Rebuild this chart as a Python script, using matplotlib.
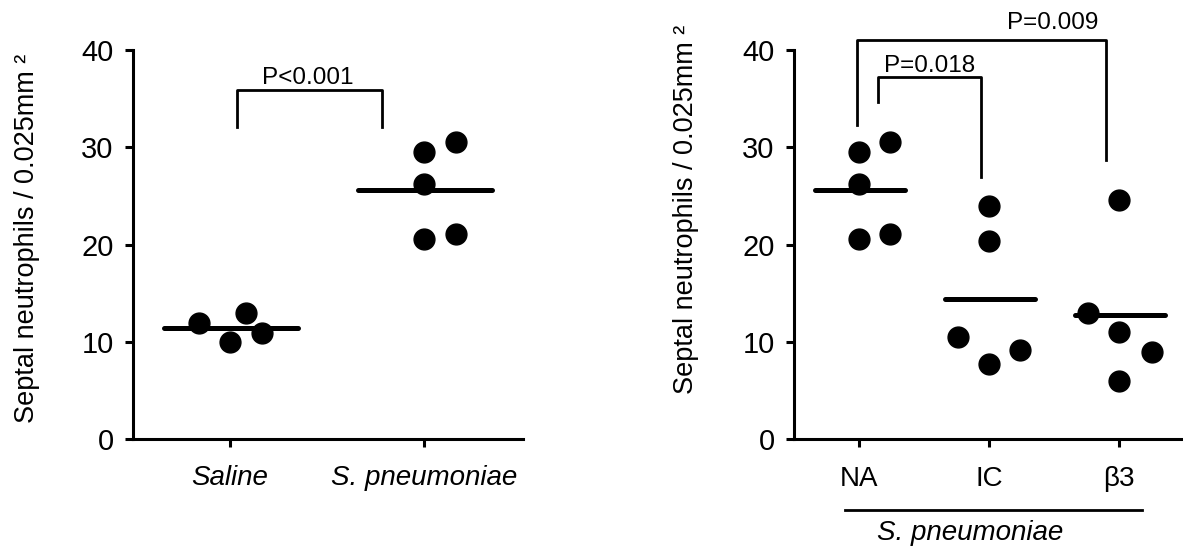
import matplotlib
matplotlib.use('Agg')
import matplotlib.pyplot as plt
import numpy as np

plt.rcParams['font.family'] = ['Liberation Sans', 'DejaVu Sans']

#-- left panel data
left_groups = ['Saline', 'S. pneumoniae']
saline     = [11.9, 13.0, 10.0, 10.9]
saline_dx  = [-0.16, 0.08, 0.0, 0.165]
spn        = [29.5, 30.5, 26.2, 20.6, 21.1]
spn_dx     = [0.0, 0.165, 0.0, 0.0, 0.165]

#-- right panel data (all S. pneumoniae)
right_groups = ['NA', 'IC', 'β3']
na     = [29.5, 30.5, 26.2, 20.6, 21.1]
na_dx  = [0.0, 0.24, 0.0, 0.0, 0.24]
ic     = [24.0, 20.4, 10.5, 7.7, 9.2]
ic_dx  = [0.0, 0.0, -0.24, 0.0, 0.24]
b3     = [24.6, 13.0, 11.0, 8.9, 6.0]
b3_dx  = [0.0, -0.24, 0.0, 0.25, 0.0]

ylabel = 'Septal neutrophils / 0.025mm \u00b2'
yticks = [0, 10, 20, 30, 40]

fig = plt.figure(figsize=(11.83, 5.56), dpi=100)
axL = fig.add_axes([0.1124, 0.2104, 0.3297, 0.6997])
axR = fig.add_axes([0.6712, 0.2104, 0.3280, 0.6997])

def style(ax, xlim, pad):
    ax.set_xlim(*xlim)
    ax.set_ylim(0, 40)
    ax.set_yticks(yticks)
    for s in ['top', 'right']:
        ax.spines[s].set_visible(False)
    for s in ['left', 'bottom']:
        ax.spines[s].set_linewidth(2.2)
    ax.tick_params(axis='both', width=2.2, length=6)
    ax.tick_params(axis='y', pad=8, labelsize=21)
    ax.tick_params(axis='x', pad=pad, labelsize=20)

def dots(ax, i, vals, dx):
    ax.plot(np.array(dx) + i, vals, 'o', color='black', ms=15, clip_on=False, zorder=3)
    m = np.mean(vals)
    ax.plot([i - 0.34, i + 0.35], [m, m], color='black', lw=3.6,
            solid_capstyle='round', zorder=4)

def bracket(ax, x1, x2, y1, y2, ytop, txt, tx, ty):
    ax.plot([x1, x1, x2, x2], [y1, ytop, ytop, y2], color='black', lw=2.0, clip_on=False)
    ax.text(tx, ty, txt, ha='center', va='baseline', fontsize=17.5)

#-- left panel
style(axL, (-0.5, 1.51), 12.5)
dots(axL, 0, saline, saline_dx)
dots(axL, 1, spn, spn_dx)
axL.set_xticks(range(len(left_groups)))
axL.set_xticklabels(left_groups, style='italic')
bracket(axL, 0.036, 0.784, 32.1, 32.1, 35.9, 'P<0.001', 0.40, 36.5)

#-- right panel
style(axR, (-0.5, 2.485), 13.5)
dots(axR, 0, na, na_dx)
dots(axR, 1, ic, ic_dx)
dots(axR, 2, b3, b3_dx)
axR.set_xticks(range(len(right_groups)))
axR.set_xticklabels(right_groups)
bracket(axR, 0.146, 0.94, 34.65, 26.9, 37.2, 'P=0.018', 0.54, 37.7)
bracket(axR, -0.015, 1.90, 32.3, 28.7, 41.05, 'P=0.009', 1.49, 42.2)

#-- group line under right panel
axR.plot([-0.108, 2.177], [-0.1825, -0.1825], color='black', lw=2.0,
         transform=axR.get_xaxis_transform(), clip_on=False)
axR.text(0.854, -0.2596, 'S. pneumoniae', style='italic', fontsize=20,
         ha='center', va='baseline', transform=axR.get_xaxis_transform())

#-- y labels
fig.text(0.0232, 0.571, ylabel, rotation=90, ha='center', va='center', fontsize=19.5)
fig.text(0.5795, 0.624, ylabel, rotation=90, ha='center', va='center', fontsize=19.5)

plt.savefig('out.png', dpi=100)
